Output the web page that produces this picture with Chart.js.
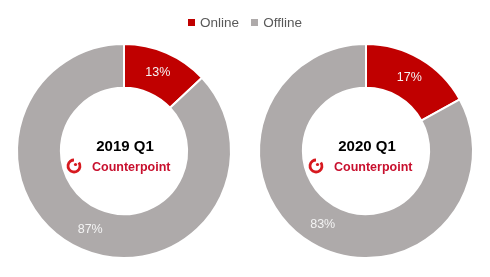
<!DOCTYPE html>
<html>
<head>
<meta charset="utf-8">
<script src="https://cdn.jsdelivr.net/npm/chart.js@4"></script>
<style>
  html, body { margin: 0; padding: 0; background: #fff; }
  #wrap { position: relative; width: 490px; height: 277px; overflow: hidden; }
  canvas { position: absolute; top: 0; }
  #legend { position: absolute; top: 15px; left: 0; width: 490px; text-align: center;
            font: 13.5px "Liberation Sans", Arial, sans-serif; color: #595959; }
  #legend span.item { margin: 0 6px; }
  #legend span.box { display: inline-block; width: 7px; height: 7px; margin-right: 5px; vertical-align: 1px; }
</style>
</head>
<body>
<div id="wrap">
  <canvas id="chart-2019" width="245" height="277" style="left:0"></canvas>
  <canvas id="chart-2020" width="245" height="277" style="left:245px"></canvas>
  <div id="legend"></div>
</div>
<script>
// channel split, share of shipments
const CHANNELS = ["Online", "Offline"];
const COLORS = ["#C00000", "#AEAAAA"];
const SHARE_2019 = [13, 87];
const SHARE_2020 = [17, 83];

// legend shared by both donuts
const legend = document.getElementById("legend");
CHANNELS.forEach((c, i) => {
  const item = document.createElement("span");
  item.className = "item";
  item.innerHTML = `<span class="box" style="background:${COLORS[i]}"></span>${c}`;
  legend.appendChild(item);
});

// percentage labels on each slice
const sliceLabels = {
  id: "sliceLabels",
  afterDatasetsDraw(chart) {
    const ctx = chart.ctx;
    const meta = chart.getDatasetMeta(0);
    ctx.save();
    ctx.font = '12.5px "Liberation Sans", Arial, sans-serif';
    ctx.fillStyle = "#f4f4f4";
    ctx.textAlign = "center";
    ctx.textBaseline = "middle";
    meta.data.forEach((arc, i) => {
      const p = arc.tooltipPosition();
      ctx.fillText(chart.data.datasets[0].data[i] + "%", p.x, p.y);
    });
    ctx.restore();
  }
};

// year text and Counterpoint mark in the hole
const centerText = {
  id: "centerText",
  afterDraw(chart, args, opts) {
    const ctx = chart.ctx;
    const arc = chart.getDatasetMeta(0).data[0];
    const cx = arc.x, cy = arc.y;
    ctx.save();
    ctx.textAlign = "center";
    ctx.textBaseline = "middle";
    ctx.fillStyle = "#000";
    ctx.font = 'bold 15px "Liberation Sans", Arial, sans-serif';
    ctx.fillText(opts.title, cx + 1, cy - 4);

    // logo: ring open at the top-right, with a dot inside
    const ix = cx - 50, iy = cy + 15, r = 6;
    ctx.strokeStyle = "#D7191F";
    ctx.fillStyle = "#D7191F";
    ctx.lineWidth = 2.8;
    ctx.beginPath();
    ctx.arc(ix, iy, r, -Math.PI * 0.2, Math.PI * 1.5);
    ctx.stroke();
    ctx.beginPath();
    ctx.arc(ix + 1.5, iy - 1.5, 1.6, 0, Math.PI * 2);
    ctx.fill();

    ctx.fillStyle = "#C8102E";
    ctx.textAlign = "left";
    ctx.font = 'bold 12.5px "Liberation Sans", Arial, sans-serif';
    ctx.fillText("Counterpoint", ix + 18, iy + 2);
    ctx.restore();
  }
};

function makeDonut(id, values, title, pad) {
  return new Chart(document.getElementById(id), {
    type: "doughnut",
    data: {
      labels: CHANNELS,
      datasets: [{
        data: values,
        backgroundColor: COLORS,
        borderColor: "#fff",
        borderWidth: 2,
      }],
    },
    options: {
      responsive: false,
      animation: false,
      cutout: "59%",
      layout: { padding: pad },
      plugins: {
        legend: { display: false },
        tooltip: { enabled: false },
        centerText: { title: title },
      },
    },
    plugins: [sliceLabels, centerText],
  });
}

makeDonut("chart-2019", SHARE_2019, "2019 Q1", { left: 16, right: 13, top: 43, bottom: 18 });
makeDonut("chart-2020", SHARE_2020, "2020 Q1", { left: 13, right: 16, top: 43, bottom: 18 });
</script>
</body>
</html>
